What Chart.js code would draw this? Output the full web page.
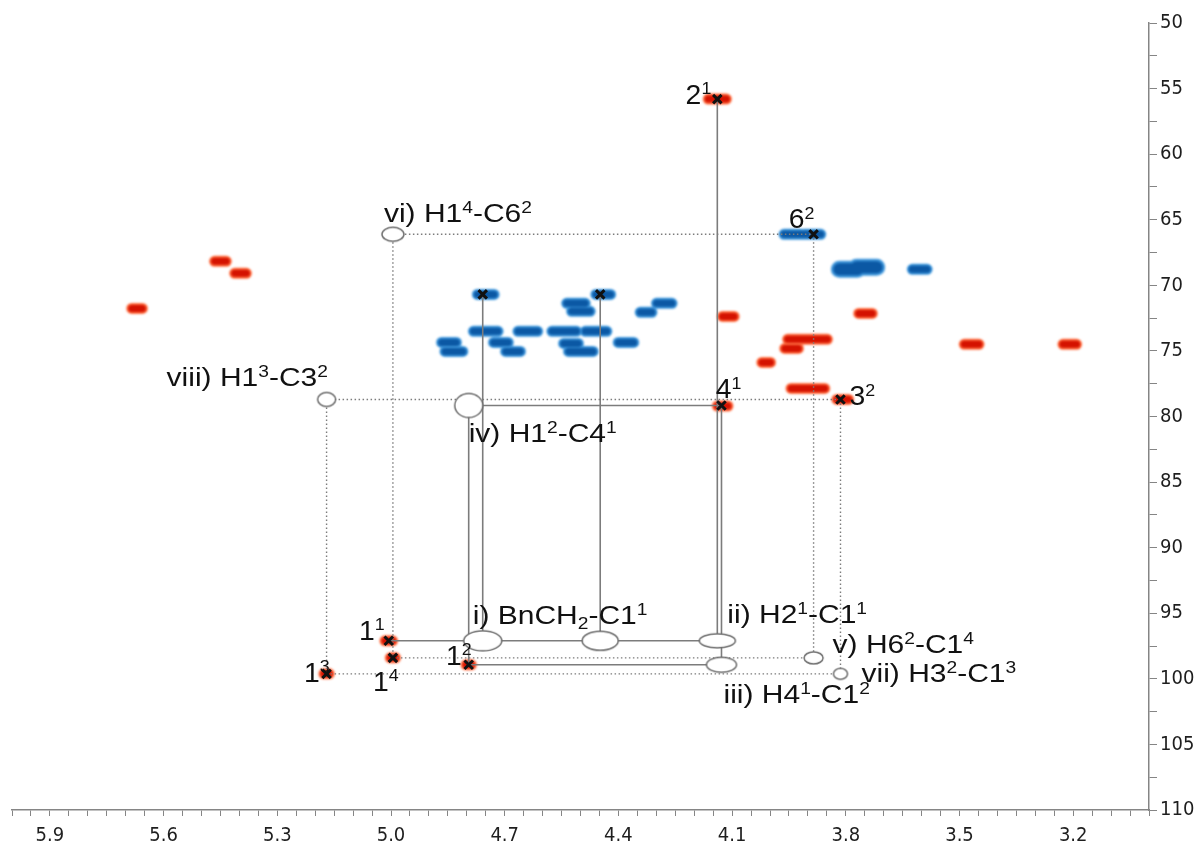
<!DOCTYPE html>
<html>
<head>
<meta charset="utf-8">
<script src="https://cdn.jsdelivr.net/npm/chart.js@4.4.1/dist/chart.umd.min.js"></script>
<style>
  html, body { margin: 0; padding: 0; background: #fff; }
  #chart { display: block; }
</style>
</head>
<body>
<canvas id="chart" width="1201" height="850"></canvas>
<script>
// positive (red) cross peaks: 1H shift, 13C shift, 1H extent (all ppm)
const redH = [4.139, 5.450, 5.397, 5.670, 3.748, 4.110, 3.901, 3.943, 3.468, 3.209, 4.010, 3.900, 3.808, 4.125, 5.006, 4.995, 4.795, 5.170];
const redC = [55.80, 68.17, 69.08, 71.76, 72.14, 72.37, 74.12, 74.81, 74.50, 74.50, 75.88, 77.86, 78.70, 79.20, 97.10, 98.40, 98.93, 99.62];
const redW = [0.070, 0.053, 0.053, 0.050, 0.058, 0.053, 0.127, 0.058, 0.061, 0.058, 0.045, 0.111, 0.053, 0.050, 0.042, 0.036, 0.036, 0.036];

// negative (blue) cross peaks
const blueH = [4.750, 4.440, 4.512, 4.499, 4.279, 4.327, 4.750, 4.639, 4.543, 4.459, 4.847, 4.834, 4.710, 4.678, 4.525, 4.499, 4.380, 3.940, 3.888, 3.605];
const blueC = [70.69, 70.69, 71.37, 71.98, 71.37, 72.06, 73.51, 73.51, 73.51, 73.51, 74.35, 75.04, 74.35, 75.04, 74.43, 75.04, 74.35, 66.11, 66.11, 68.78];
const blueW = [0.066, 0.061, 0.071, 0.071, 0.063, 0.053, 0.087, 0.074, 0.087, 0.079, 0.061, 0.069, 0.061, 0.061, 0.061, 0.087, 0.063, 0.068, 0.066, 0.061];

// strong, broad blue peaks near 3.8 / 68.7
const blueStrongH = [3.793, 3.745];
const blueStrongC = [68.78, 68.63];
const blueStrongW = [0.070, 0.075];

// assigned peaks (black crosses)
const markerNames = ["2¹", "6²", "a", "b", "4¹", "3²", "1¹", "1⁴", "1²", "1³"];
const markerH = [4.139, 3.885, 4.758, 4.448, 4.128, 3.814, 5.006, 4.995, 4.795, 5.170];
const markerC = [55.80, 66.11, 70.69, 70.69, 79.16, 78.70, 97.10, 98.40, 98.93, 99.62];

// correlation ellipses
const corrNames = ["i", "i2", "ii", "iii", "iv", "v", "vi", "vii", "viii"];
const corrLabels = ["i) BnCH₂-C1¹", "", "ii) H2¹-C1¹", "iii) H4¹-C1²", "iv) H1²-C4¹", "v) H6²-C1⁴", "vi) H1⁴-C6²", "vii) H3²-C1³", "viii) H1³-C3²"];
const corrH = [4.758, 4.448, 4.139, 4.128, 4.795, 3.885, 4.995, 3.814, 5.170];
const corrC = [97.10, 97.10, 97.10, 98.93, 79.16, 98.40, 66.11, 99.62, 78.70];

const solidLinks = [["2¹", "ii"], ["4¹", "iii"], ["a", "i"], ["b", "i2"], ["1¹", "ii"], ["1²", "iii"], ["1²", "iv"], ["iv", "4¹"]];
const dottedLinks = [["vi", "6²"], ["vi", "1⁴"], ["viii", "3²"], ["viii", "1³"], ["6²", "v"], ["1⁴", "v"], ["3²", "vii"], ["1³", "vii"]];

const xTickLabels = ["5.9", "5.6", "5.3", "5.0", "4.7", "4.4", "4.1", "3.8", "3.5", "3.2"];
const yTickLabels = ["50", "55", "60", "65", "70", "75", "80", "85", "90", "95", "100", "105", "110"];

// ---- styles ----
const ellipseSize = { i: [19, 10], i2: [18, 9.5], ii: [18, 7], iii: [15, 7.5], iv: [14, 12], v: [9.5, 6], vi: [11, 7], vii: [7, 5.5], viii: [9, 7] };
const corrOffset = { i: [-10, -17, "left"], ii: [10, -18, "left"], iii: [2, 38, "left"], iv: [0, 37, "left"], v: [19, -5, "left"], vi: [-9, -12, "left"], vii: [21, 8, "left"], viii: [-160, -13, "left"] };
const markerOffset = { "2¹": [-6, 5, "right"], "6²": [-12, -6, "center"], "4¹": [7, -7, "center"], "3²": [9, 6, "left"], "1¹": [-4, -1, "right"], "1⁴": [-20, 33, "left"], "1²": [3, 0, "right"], "1³": [3, 8, "right"] };
const CAP = 0.011;
const AXIS = "#858585";
const TICK_FONT = { family: "'DejaVu Sans Condensed', 'DejaVu Sans', sans-serif", size: 20 };
const SUP = { "¹": "1", "²": "2", "³": "3", "⁴": "4" };
const SUB = { "₂": "2" };

function peakSegments(hs, cs, ws) {
  const pts = [];
  hs.forEach((h, i) => {
    const half = Math.max(ws[i] / 2 - CAP, 0.002);
    pts.push({ x: h + half, y: cs[i] }, { x: h - half, y: cs[i] }, { x: h, y: null });
  });
  return pts;
}

function pointOf(name) {
  let i = markerNames.indexOf(name);
  if (i >= 0) return { x: markerH[i], y: markerC[i] };
  i = corrNames.indexOf(name);
  return { x: corrH[i], y: corrC[i] };
}

function linkSegments(links) {
  const pts = [];
  links.forEach(([a, b]) => {
    const p = pointOf(a), q = pointOf(b);
    pts.push(p, q, { x: p.x, y: null });
  });
  return pts;
}

function ellipseImage(rx, ry) {
  const c = document.createElement("canvas");
  c.width = Math.ceil(2 * rx + 4);
  c.height = Math.ceil(2 * ry + 4);
  const g = c.getContext("2d");
  g.beginPath();
  g.ellipse(c.width / 2, c.height / 2, rx, ry, 0, 0, Math.PI * 2);
  g.fillStyle = "#fff";
  g.fill();
  g.lineWidth = 1.5;
  g.strokeStyle = "#6e6e6e";
  g.stroke();
  return c;
}

function peakSet(data, color, width, order) {
  return {
    data, borderColor: color, borderWidth: width, borderCapStyle: "round",
    pointRadius: 0, spanGaps: false, fill: false, order, isPeak: true
  };
}

// text with superscript / subscript digits drawn smaller
function drawRich(ctx, text, px, py, align, size, stretch) {
  const runs = [];
  for (const ch of text) {
    const kind = SUP[ch] ? "sup" : SUB[ch] ? "sub" : "n";
    const c = SUP[ch] || SUB[ch] || ch;
    const last = runs[runs.length - 1];
    if (last && last.kind === kind) last.t += c; else runs.push({ kind, t: c });
  }
  const fontFor = k => (k === "n" ? size : Math.round(size * 0.64)) + "px 'Liberation Sans', Arial, sans-serif";
  let total = 0;
  runs.forEach(r => { ctx.font = fontFor(r.kind); r.w = ctx.measureText(r.t).width; total += r.w; });
  ctx.save();
  ctx.translate(px, py);
  ctx.scale(stretch, 1);
  let cx = align === "right" ? -total : align === "center" ? -total / 2 : 0;
  ctx.textAlign = "left";
  runs.forEach(r => {
    ctx.font = fontFor(r.kind);
    const dy = r.kind === "sup" ? -size * 0.36 : r.kind === "sub" ? size * 0.2 : 0;
    ctx.fillText(r.t, cx, dy);
    cx += r.w;
  });
  ctx.restore();
}

const labelPlugin = {
  id: "peakLabels",
  beforeDatasetDraw(chart, args) {
    if (args.meta._dataset.isPeak) {
      chart.ctx.save();
      chart.ctx.filter = "blur(0.8px)";
    }
  },
  afterDatasetDraw(chart, args) {
    if (args.meta._dataset.isPeak) chart.ctx.restore();
  },
  afterDatasetsDraw(chart) {
    const { ctx, scales: { x, y } } = chart;
    ctx.save();
    ctx.fillStyle = "#111";
    ctx.textBaseline = "alphabetic";
    corrNames.forEach((n, i) => {
      const o = corrOffset[n];
      if (!o || !corrLabels[i]) return;
      drawRich(ctx, corrLabels[i], x.getPixelForValue(corrH[i]) + o[0], y.getPixelForValue(corrC[i]) + o[1], o[2], 25, 1.2);
    });
    markerNames.forEach((n, i) => {
      const o = markerOffset[n];
      if (!o) return;
      drawRich(ctx, n, x.getPixelForValue(markerH[i]) + o[0], y.getPixelForValue(markerC[i]) + o[1], o[2], 27, 1.05);
    });
    ctx.restore();
  }
};

new Chart(document.getElementById("chart"), {
  type: "line",
  data: {
    datasets: [
      peakSet(peakSegments(redH, redC, redW), "rgba(255,95,45,0.9)", 11, 30),
      peakSet(peakSegments(redH, redC, redW), "#d41200", 7, 29),
      peakSet(peakSegments(blueH, blueC, blueW), "#3f97dc", 11, 28),
      peakSet(peakSegments(blueH, blueC, blueW), "#0b58a4", 7, 27),
      peakSet(peakSegments(blueStrongH, blueStrongC, blueStrongW), "#3f97dc", 17, 26),
      peakSet(peakSegments(blueStrongH, blueStrongC, blueStrongW), "#0b58a4", 12, 25),
      {
        data: linkSegments(solidLinks), borderColor: "#7c7c7c", borderWidth: 1.6,
        pointRadius: 0, spanGaps: false, order: 10
      },
      {
        data: linkSegments(dottedLinks), borderColor: "#7c7c7c", borderWidth: 1.4,
        borderDash: [1.5, 2.5], pointRadius: 0, spanGaps: false, order: 10
      },
      {
        data: corrH.map((h, i) => ({ x: h, y: corrC[i] })), showLine: false,
        pointStyle: corrNames.map(n => ellipseImage(ellipseSize[n][0], ellipseSize[n][1])),
        order: 5
      },
      {
        data: markerH.map((h, i) => ({ x: h, y: markerC[i] })), showLine: false,
        pointStyle: "crossRot", pointRadius: 6, pointBorderWidth: 3,
        pointBorderColor: "#111", pointBackgroundColor: "#111", order: 1
      }
    ]
  },
  options: {
    responsive: false,
    animation: false,
    events: [],
    layout: { padding: { left: 12, top: 23, right: 0, bottom: 0 } },
    plugins: { legend: { display: false }, tooltip: { enabled: false } },
    scales: {
      x: {
        type: "linear", reverse: true, min: 3.0, max: 6.0,
        afterBuildTicks: s => {
          const t = [];
          for (let i = 0; i <= 60; i++) t.push({ value: 3.0 + i * 0.05 });
          s.ticks = t;
        },
        afterFit: s => { s.height = 40; },
        ticks: {
          autoSkip: false, maxRotation: 0, padding: 8, color: "#1e1e1e", font: TICK_FONT,
          callback: v => xTickLabels.find(l => Math.abs(parseFloat(l) - v) < 1e-6) || ""
        },
        grid: { drawOnChartArea: false, drawTicks: true, tickLength: 6, color: AXIS },
        border: { display: true, color: AXIS, width: 1.5 }
      },
      y: {
        type: "linear", position: "right", reverse: true, min: 50, max: 110,
        afterBuildTicks: s => {
          const t = [];
          for (let i = 0; i <= 24; i++) t.push({ value: 50 + i * 2.5 });
          s.ticks = t;
        },
        afterFit: s => { s.width = 52; },
        ticks: {
          autoSkip: false, padding: 3, color: "#1e1e1e", font: TICK_FONT,
          callback: v => yTickLabels.find(l => Math.abs(parseFloat(l) - v) < 1e-6) || ""
        },
        grid: { drawOnChartArea: false, drawTicks: true, tickLength: 8, color: AXIS },
        border: { display: true, color: AXIS, width: 1.5 }
      }
    }
  },
  plugins: [labelPlugin]
});
</script>
</body>
</html>
